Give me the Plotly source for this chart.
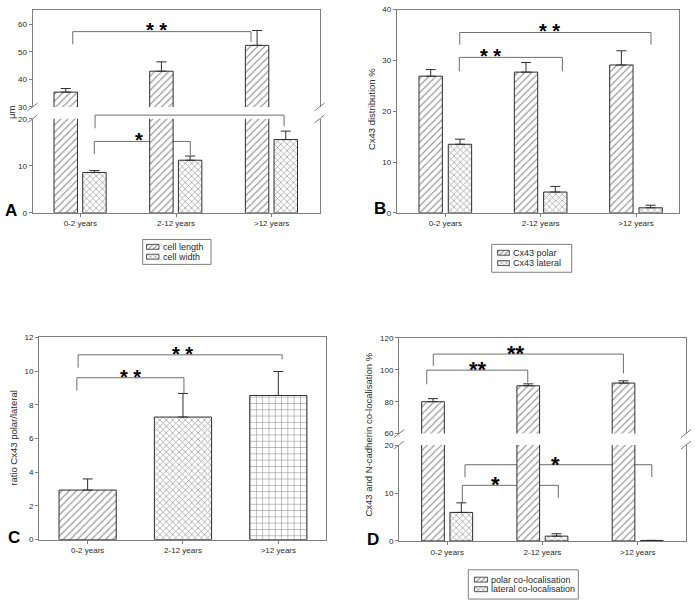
import plotly.graph_objects as go

W, H = 695, 608

# ---------------- data ----------------
categories = ["0-2 years", "2-12 years", ">12 years"]
cat_pos = [0, 1, 2]

# Panel A (µm)
cell_length = [35.4, 43.0, 52.4]
cell_length_err = [1.3, 3.4, 5.4]
cell_width = [8.6, 11.2, 15.6]
cell_width_err = [0.4, 0.9, 1.8]

# Panel B (%)
cx43_polar = [26.9, 27.7, 29.1]
cx43_polar_err = [1.3, 1.9, 2.8]
cx43_lateral = [13.5, 4.1, 1.0]
cx43_lateral_err = [1.0, 1.1, 0.5]

# Panel C (ratio)
ratio_polar_lateral = [2.94, 7.27, 8.55]
ratio_polar_lateral_err = [0.66, 1.40, 1.42]

# Panel D (%)
polar_coloc = [80.0, 90.0, 91.7]
polar_coloc_err = [1.9, 1.2, 1.4]
lateral_coloc = [5.95, 1.0, 0.1]
lateral_coloc_err = [2.0, 0.5, 0.0]

# tick values
A_hi_ticks = [30, 40, 50, 60]
A_lo_ticks = [0, 10, 20]
B_ticks = [0, 10, 20, 30, 40]
C_ticks = [0, 2, 4, 6, 8, 10, 12]
D_hi_ticks = [60, 80, 100, 120]
D_lo_ticks = [0, 10, 20]

# significance brackets: (x_left, x_right, y_line, y_left_end, y_right_end, label, label_x)
A_hi_brackets = [(-0.079, 1.784, 57.4, 52.8, 53.7, "* *", 0.80)]
A_lo_brackets = [(0.154, 2.13, 20.8, 18.0, 18.4, "* *", 1.33),
                 (0.146, 1.15, 15.2, 12.5, 12.3, "*", 0.61)]
B_brackets = [(0.151, 2.157, 35.5, 33.1, 33.1, "* *", 1.09),
              (0.147, 1.228, 30.6, 27.9, 27.9, "* *", 0.469)]
C_brackets = [(-0.10, 2.04, 10.96, 10.2, 10.7, "* *", 0.997),
              (-0.113, 1.01, 9.6, 8.84, 8.70, "* *", 0.45)]
D_hi_brackets = [(-0.146, 1.85, 109.9, 102.5, 97.7, "**", 0.726),
                 (-0.215, 0.846, 99.8, 90.9, 92.0, "**", 0.327)]
D_lo_brackets = [(0.187, 2.148, 15.9, 13.3, 13.3, "*", 1.132),
                 (0.159, 1.167, 11.6, 7.9, 9.0, "*", 0.51)]

# ---------------- styling helpers ----------------
FONT = "Liberation Sans, Arial, sans-serif"
AX = "#7f7f7f"
BAR_LINE = "#2e2e2e"
HATCH = "#2a2a2a"
TXT = "#2a2a2a"
TICKFONT = dict(family=FONT, size=8, color=TXT)


def px(x):
    return x / W


def py(y):
    return 1 - y / H


fig = go.Figure()


def add_bars(vals, errs, xa, ya, shape, offset, width, err_on=True, size=5, solidity=0.22):
    fig.add_trace(go.Bar(
        x=cat_pos, y=vals, xaxis=xa, yaxis=ya, offset=offset, width=width,
        marker=dict(color="white", line=dict(color=BAR_LINE, width=1),
                    pattern=dict(shape=shape, fgcolor=HATCH, bgcolor="white",
                                 size=size, solidity=solidity)),
        error_y=dict(type="data", array=errs, arrayminus=[0] * len(errs),
                     symmetric=False, color=BAR_LINE, thickness=1, width=5,
                     visible=err_on),
        showlegend=False, hoverinfo="skip"))


def yax(top, bottom, rng, anchor, ticks):
    return dict(domain=[py(bottom), py(top)], range=rng, anchor=anchor,
                showline=True, mirror=True, linecolor=AX, linewidth=1,
                ticks="outside", ticklen=3, tickcolor=AX, tickvals=ticks,
                showgrid=False, zeroline=False, tickfont=TICKFONT, fixedrange=True)


def xax_bottom(left, right, rng, anchor, mirror=False):
    return dict(domain=[px(left), px(right)], range=rng, anchor=anchor,
                showline=True, mirror=mirror, linecolor=AX, linewidth=1,
                ticks="outside", ticklen=3, tickcolor=AX,
                tickvals=cat_pos, ticktext=categories,
                showgrid=False, zeroline=False, tickfont=TICKFONT, fixedrange=True)


def xax_top(left, right, rng, anchor):
    return dict(domain=[px(left), px(right)], range=rng, anchor=anchor, side="top",
                showline=True, linecolor=AX, linewidth=1, ticks="",
                showticklabels=False, showgrid=False, zeroline=False, fixedrange=True)


def hidden_ax(d0, d1, rng, anchor):
    return dict(domain=[d0, d1], range=rng, anchor=anchor, visible=False,
                showgrid=False, zeroline=False, fixedrange=True)


shapes = []
annotations = []


def add_brackets(brackets, xa, ya, yrange, star_size):
    r0, r1 = yrange
    yd = ya + " domain"

    def f(v):
        return (v - r0) / (r1 - r0)

    ln = dict(color="#6e6e6e", width=1)
    for (xl, xr, yl, yle, yre, label, lx) in brackets:
        shapes.append(dict(type="line", xref=xa, yref=yd, x0=xl, x1=xr, y0=f(yl), y1=f(yl), line=ln, layer="below"))
        shapes.append(dict(type="line", xref=xa, yref=yd, x0=xl, x1=xl, y0=f(yle), y1=f(yl), line=ln, layer="below"))
        shapes.append(dict(type="line", xref=xa, yref=yd, x0=xr, x1=xr, y0=f(yre), y1=f(yl), line=ln, layer="below"))
        annotations.append(dict(xref=xa, yref=ya, x=lx, y=yl, text="<b>" + label + "</b>",
                                showarrow=False, xanchor="center", yanchor="middle",
                                yshift=6 - 0.24 * star_size,
                                font=dict(family=FONT, size=star_size, color="black")))


def add_break(xs, ys):
    for x in xs:
        for y in ys:
            shapes.append(dict(type="line", xref="paper", yref="paper",
                               x0=px(x - 5), y0=py(y + 4), x1=px(x + 5), y1=py(y - 4),
                               line=dict(color=AX, width=1)))


def add_title(text, xc, yc):
    annotations.append(dict(xref="paper", yref="paper", x=px(xc), y=py(yc), text=text,
                            textangle=-90, showarrow=False, xanchor="center", yanchor="middle",
                            font=dict(family=FONT, size=9.5, color=TXT)))


def add_letter(text, xc, yc):
    annotations.append(dict(xref="paper", yref="paper", x=px(xc), y=py(yc), text="<b>" + text + "</b>",
                            showarrow=False, xanchor="center", yanchor="middle",
                            font=dict(family=FONT, size=17, color="black")))


def add_legend(box, rows, sw, tx, labels, pats, xa, ya):
    shapes.append(dict(type="rect", xref="paper", yref="paper",
                       x0=px(box[0]), x1=px(box[2]), y0=py(box[3]), y1=py(box[1]),
                       line=dict(color=AX, width=1), fillcolor="rgba(0,0,0,0)"))
    for row, lab, pat in zip(rows, labels, pats):
        fig.add_trace(go.Bar(x=[1], y=[row], orientation="h", width=5, xaxis=xa, yaxis=ya,
                             marker=dict(color="white", line=dict(color=BAR_LINE, width=0.8),
                                         pattern=dict(shape=pat, fgcolor="#222222", bgcolor="white",
                                                      size=3.5, solidity=0.35)),
                             showlegend=False, hoverinfo="skip"))
        annotations.append(dict(xref="paper", yref="paper", x=px(tx), y=py(row), text=lab,
                                showarrow=False, xanchor="left", yanchor="middle",
                                font=dict(family=FONT, size=9, color=TXT)))
    xd = hidden_ax(px(sw[0] - 1), px(sw[1] + 1), [-0.08, 1.08], ya)
    yd = hidden_ax(py(rows[-1] + 5), py(rows[0] - 5), [rows[-1] + 5, rows[0] - 5], xa)
    return xd, yd


# ---------------- Panel A (broken axis) ----------------
A_x = (32.5, 319.5)
A_xr = [-0.5, 2.5]
A_hi = (6.0, 104.5, [30, 65.3])
A_lo = (116.6, 212.0, [0, 20])

add_bars(cell_length, cell_length_err, "x2", "y2", "/", -0.275, 0.245)
add_bars(cell_length, cell_length_err, "x", "y", "/", -0.275, 0.245, err_on=False)
add_bars(cell_width, cell_width_err, "x", "y", "x", 0.025, 0.245, size=4.5, solidity=0.28)
add_brackets(A_hi_brackets, "x2", "y2", A_hi[2], 20)
add_brackets(A_lo_brackets, "x", "y", A_lo[2], 20)
add_break(A_x, [A_hi[1], A_lo[0]])
add_title("μm", 11.7, 110)
add_letter("A", 11.0, 209.5)

# ---------------- Panel B ----------------
B_x = (396.7, 679.3)
B_xr = [-0.51, 2.454]
B_y = (5.7, 212.0, [0, 40])
add_bars(cx43_polar, cx43_polar_err, "x3", "y3", "/", -0.276, 0.245)
add_bars(cx43_lateral, cx43_lateral_err, "x3", "y3", "x", 0.031, 0.245, size=4.5, solidity=0.28)
add_brackets(B_brackets, "x3", "y3", B_y[2], 20)
add_title("Cx43 distribution %", 371.7, 107)
add_letter("B", 380.0, 207.5)

# ---------------- Panel C ----------------
C_x = (39.0, 326.0)
C_xr = [-0.51, 2.5]
C_y = (338.3, 543.7, [0, 12])
fig.add_trace(go.Bar(
    x=cat_pos, y=ratio_polar_lateral, xaxis="x4", yaxis="y4", offset=-0.3, width=0.6,
    marker=dict(color="white", line=dict(color=BAR_LINE, width=1),
                pattern=dict(shape=["/", "x", "+"], fgcolor=HATCH, bgcolor="white",
                             size=[5, 4.5, 6.3], solidity=[0.22, 0.28, 0.18])),
    error_y=dict(type="data", array=ratio_polar_lateral_err,
                 arrayminus=[0] * len(ratio_polar_lateral_err), symmetric=False,
                 color=BAR_LINE, thickness=1, width=5),
    showlegend=False, hoverinfo="skip"))
add_brackets(C_brackets, "x4", "y4", C_y[2], 20)
add_title("ratio Cx43 polar/lateral", 13.3, 440)
add_letter("C", 13.8, 541.5)

# ---------------- Panel D (broken axis) ----------------
D_x = (399.0, 686.0)
D_xr = [-0.506, 2.507]
D_hi = (339.0, 436.0, [60, 120])
D_lo = (447.7, 545.0, [0, 20])
add_bars(polar_coloc, polar_coloc_err, "x6", "y6", "/", -0.268, 0.238)
add_bars(polar_coloc, polar_coloc_err, "x5", "y5", "/", -0.268, 0.238, err_on=False)
add_bars(lateral_coloc, lateral_coloc_err, "x5", "y5", "x", 0.029, 0.238, size=4.5, solidity=0.28)
add_brackets(D_hi_brackets, "x6", "y6", D_hi[2], 22)
add_brackets(D_lo_brackets, "x5", "y5", D_lo[2], 22)
add_break(D_x, [D_hi[1], D_lo[0]])
add_title("Cx43 and N-cadherin co-localisation %", 368.3, 436.7)
add_letter("D", 372.5, 544)

# ---------------- legends ----------------
x7, y7 = add_legend((142.7, 239.0, 211.0, 264.3), [246.5, 256.5], (146.5, 159.0), 161.0,
                    ["cell length", "cell width"], ["/", "x"], "x7", "y7")
x8, y8 = add_legend((491.7, 244.0, 571.7, 272.3), [252.5, 263.0], (497.7, 509.3), 510.7,
                    ["Cx43 polar", "Cx43 lateral"], ["/", "x"], "x8", "y8")
x9, y9 = add_legend((468.3, 574.3, 578.3, 604.0), [584.3, 594.0], (474.3, 487.7), 489.0,
                    ["polar co-localisation", "lateral co-localisation"], ["/", "x"], "x9", "y9")
x7["anchor"], x8["anchor"], x9["anchor"] = "y7", "y8", "y9"

fig.update_layout(
    width=W, height=H, margin=dict(l=0, r=0, t=0, b=0),
    paper_bgcolor="white", plot_bgcolor="rgba(0,0,0,0)",
    barmode="overlay", showlegend=False,
    font=dict(family=FONT, size=8, color=TXT),
    xaxis=xax_bottom(A_x[0], A_x[1], A_xr, "y"),
    yaxis=yax(A_lo[0], A_lo[1], A_lo[2], "x", A_lo_ticks),
    xaxis2=xax_top(A_x[0], A_x[1], A_xr, "y2"),
    yaxis2=yax(A_hi[0], A_hi[1], A_hi[2], "x2", A_hi_ticks),
    xaxis3=xax_bottom(B_x[0], B_x[1], B_xr, "y3", mirror=True),
    yaxis3=yax(B_y[0], B_y[1], B_y[2], "x3", B_ticks),
    xaxis4=xax_bottom(C_x[0], C_x[1], C_xr, "y4", mirror=True),
    yaxis4=yax(C_y[0], C_y[1], C_y[2], "x4", C_ticks),
    xaxis5=xax_bottom(D_x[0], D_x[1], D_xr, "y5"),
    yaxis5=yax(D_lo[0], D_lo[1], D_lo[2], "x5", D_lo_ticks),
    xaxis6=xax_top(D_x[0], D_x[1], D_xr, "y6"),
    yaxis6=yax(D_hi[0], D_hi[1], D_hi[2], "x6", D_hi_ticks),
    xaxis7=x7, yaxis7=y7, xaxis8=x8, yaxis8=y8, xaxis9=x9, yaxis9=y9,
    shapes=shapes, annotations=annotations,
)

fig.write_html("out.html", config={"displayModeBar": False},
               post_script="document.body.style.margin='0px';document.body.style.overflow='hidden';")
